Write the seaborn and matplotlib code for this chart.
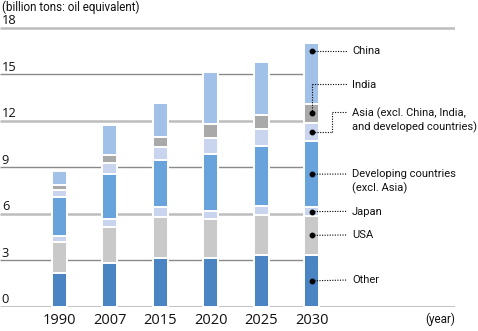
import matplotlib
matplotlib.use("Agg")
import matplotlib.pyplot as plt
import seaborn as sns
import numpy as np
import pandas as pd

years = ["1990", "2007", "2015", "2020", "2025", "2030"]
other = [2.20, 2.84, 3.16, 3.16, 3.33, 3.34]
usa = [1.95, 2.32, 2.63, 2.48, 2.59, 2.52]
japan = [0.43, 0.52, 0.62, 0.53, 0.58, 0.55]
developing = [2.52, 2.85, 3.05, 3.68, 3.87, 4.28]
asia_other = [0.40, 0.74, 0.86, 1.01, 1.08, 1.16]
india = [0.35, 0.51, 0.65, 0.91, 0.92, 1.25]
china = [0.90, 1.94, 2.15, 3.37, 3.44, 3.90]

series_names = ["Other", "USA", "Japan", "Developing countries\n(excl. Asia)",
                "Asia (excl. China, India,\nand developed countries)", "India", "China"]
series_vals = [other, usa, japan, developing, asia_other, india, china]
colors = ["#4a84c3", "#c9c9c9", "#c9d4ee", "#68a3dc", "#c9d4ee", "#a9a9a9", "#a1c1e8"]
yticks = [0, 3, 6, 9, 12, 15, 18]
ylabel = "(billion tons: oil equivalent)"
xlabel = "(year)"

sns.set_theme(style="white")
plt.rcParams["font.family"] = ["Open Sans", "DejaVu Sans"]
label_font = ["Roboto", "DejaVu Sans"]

W, H = 478, 331
fig = plt.figure(figsize=(W / 100, H / 100), dpi=100)
x0_px, step_px = 59.3, 50.5
y0_px, unit_px = 306.7, 15.5
right_px = 455
xmin = (0 - x0_px) / step_px
xmax = (right_px - x0_px) / step_px
ymax = 18.4
ax = fig.add_axes([0, (H - y0_px) / H, right_px / W, ymax * unit_px / H])

bar_w = 0.29
# stacked bars via cumulative overlapping seaborn bars
cum = np.cumsum(np.array(series_vals), axis=0)
for i in range(len(series_vals) - 1, -1, -1):
    df = pd.DataFrame({"year": years, "v": cum[i]})
    sns.barplot(data=df, x="year", y="v", color=colors[i], width=bar_w,
                saturation=1, edgecolor="white", linewidth=1.4, ax=ax, zorder=2)
ax.set_xlim(xmin, xmax)
ax.set_ylim(0, ymax)
ax.set_xlabel("")
ax.set_ylabel("")
ax.set_xticks([])
ax.set_yticks([])
ax.grid(False)
for s in ax.spines.values():
    s.set_visible(False)

# gridlines
for t in yticks[1:]:
    end = xmax if t == 18 else 5 + bar_w / 2
    if t % 6 == 0:
        ax.hlines(t, xmin, end, color="#bdbdbd", lw=1.8, zorder=0)
    else:
        ax.hlines(t, xmin, end, color="#8a8a8a", lw=1.0, zorder=0)
ax.hlines(0, xmin, xmax, color="#c4c4c4", lw=2.2, zorder=0)

# y tick labels above gridlines
for t in yticks:
    ax.annotate(str(t), xy=(0.004, t), xycoords=("axes fraction", "data"),
                xytext=(0, 0.5), textcoords="offset points", ha="left", va="bottom",
                fontsize=9.3, color="#111111")
fig.text(2 / W, 1 - 0.5 / H, ylabel, ha="left", va="top", fontsize=8.4,
         family=label_font, color="#111111")

# year labels
for i, y in enumerate(years):
    ax.annotate(y, xy=(i, 0), xycoords="data", xytext=(0, -4.8),
                textcoords="offset points", ha="center", va="top",
                fontsize=10.5, color="#111111")
ax.annotate(xlabel, xy=(xmax, 0), xycoords="data", xytext=(0, -4.5),
            textcoords="offset points", ha="right", va="top",
            fontsize=8.4, family=label_font, color="#111111")

# annotations at 2030 bar
bottoms = cum - np.array(series_vals)
last = len(years) - 1
mids = [(bottoms[k][last] + cum[k][last]) / 2 for k in range(len(series_vals))]
text_x = (352 - x0_px) / step_px
line_end = (347 - x0_px) / step_px
elbow_x = (331.7 - x0_px) / step_px
label_y = [1.72, 4.63, 6.15, 8.56, 12.55, 14.35, 16.5]
dot_y = list(mids)
dot_y[6] = label_y[6]
lstyle = dict(color="black", lw=0.8, ls=(0, (1, 1.3)), zorder=4)
for k in range(len(series_vals)):
    dy = dot_y[k]
    ly = label_y[k]
    ax.plot([last], [dy], "o", color="black", ms=3.2, zorder=5)
    if k == 5:  # India: up then right
        ax.plot([last, last], [dy, ly], **lstyle)
        ax.plot([last, line_end], [ly, ly], **lstyle)
    elif k == 4:  # Asia: right, up, right
        ax.plot([last, elbow_x], [dy, dy], **lstyle)
        ax.plot([elbow_x, elbow_x], [dy, ly], **lstyle)
        ax.plot([elbow_x, line_end], [ly, ly], **lstyle)
    else:
        ax.plot([last, line_end], [dy, ly], **lstyle)
    ax.annotate(series_names[k], xy=(text_x, ly), xycoords="data",
                xytext=(0, 3.3), textcoords="offset points",
                ha="left", va="top", fontsize=8.0, family=label_font,
                color="#111111", linespacing=1.3, annotation_clip=False)

fig.savefig("out.png", dpi=100)
